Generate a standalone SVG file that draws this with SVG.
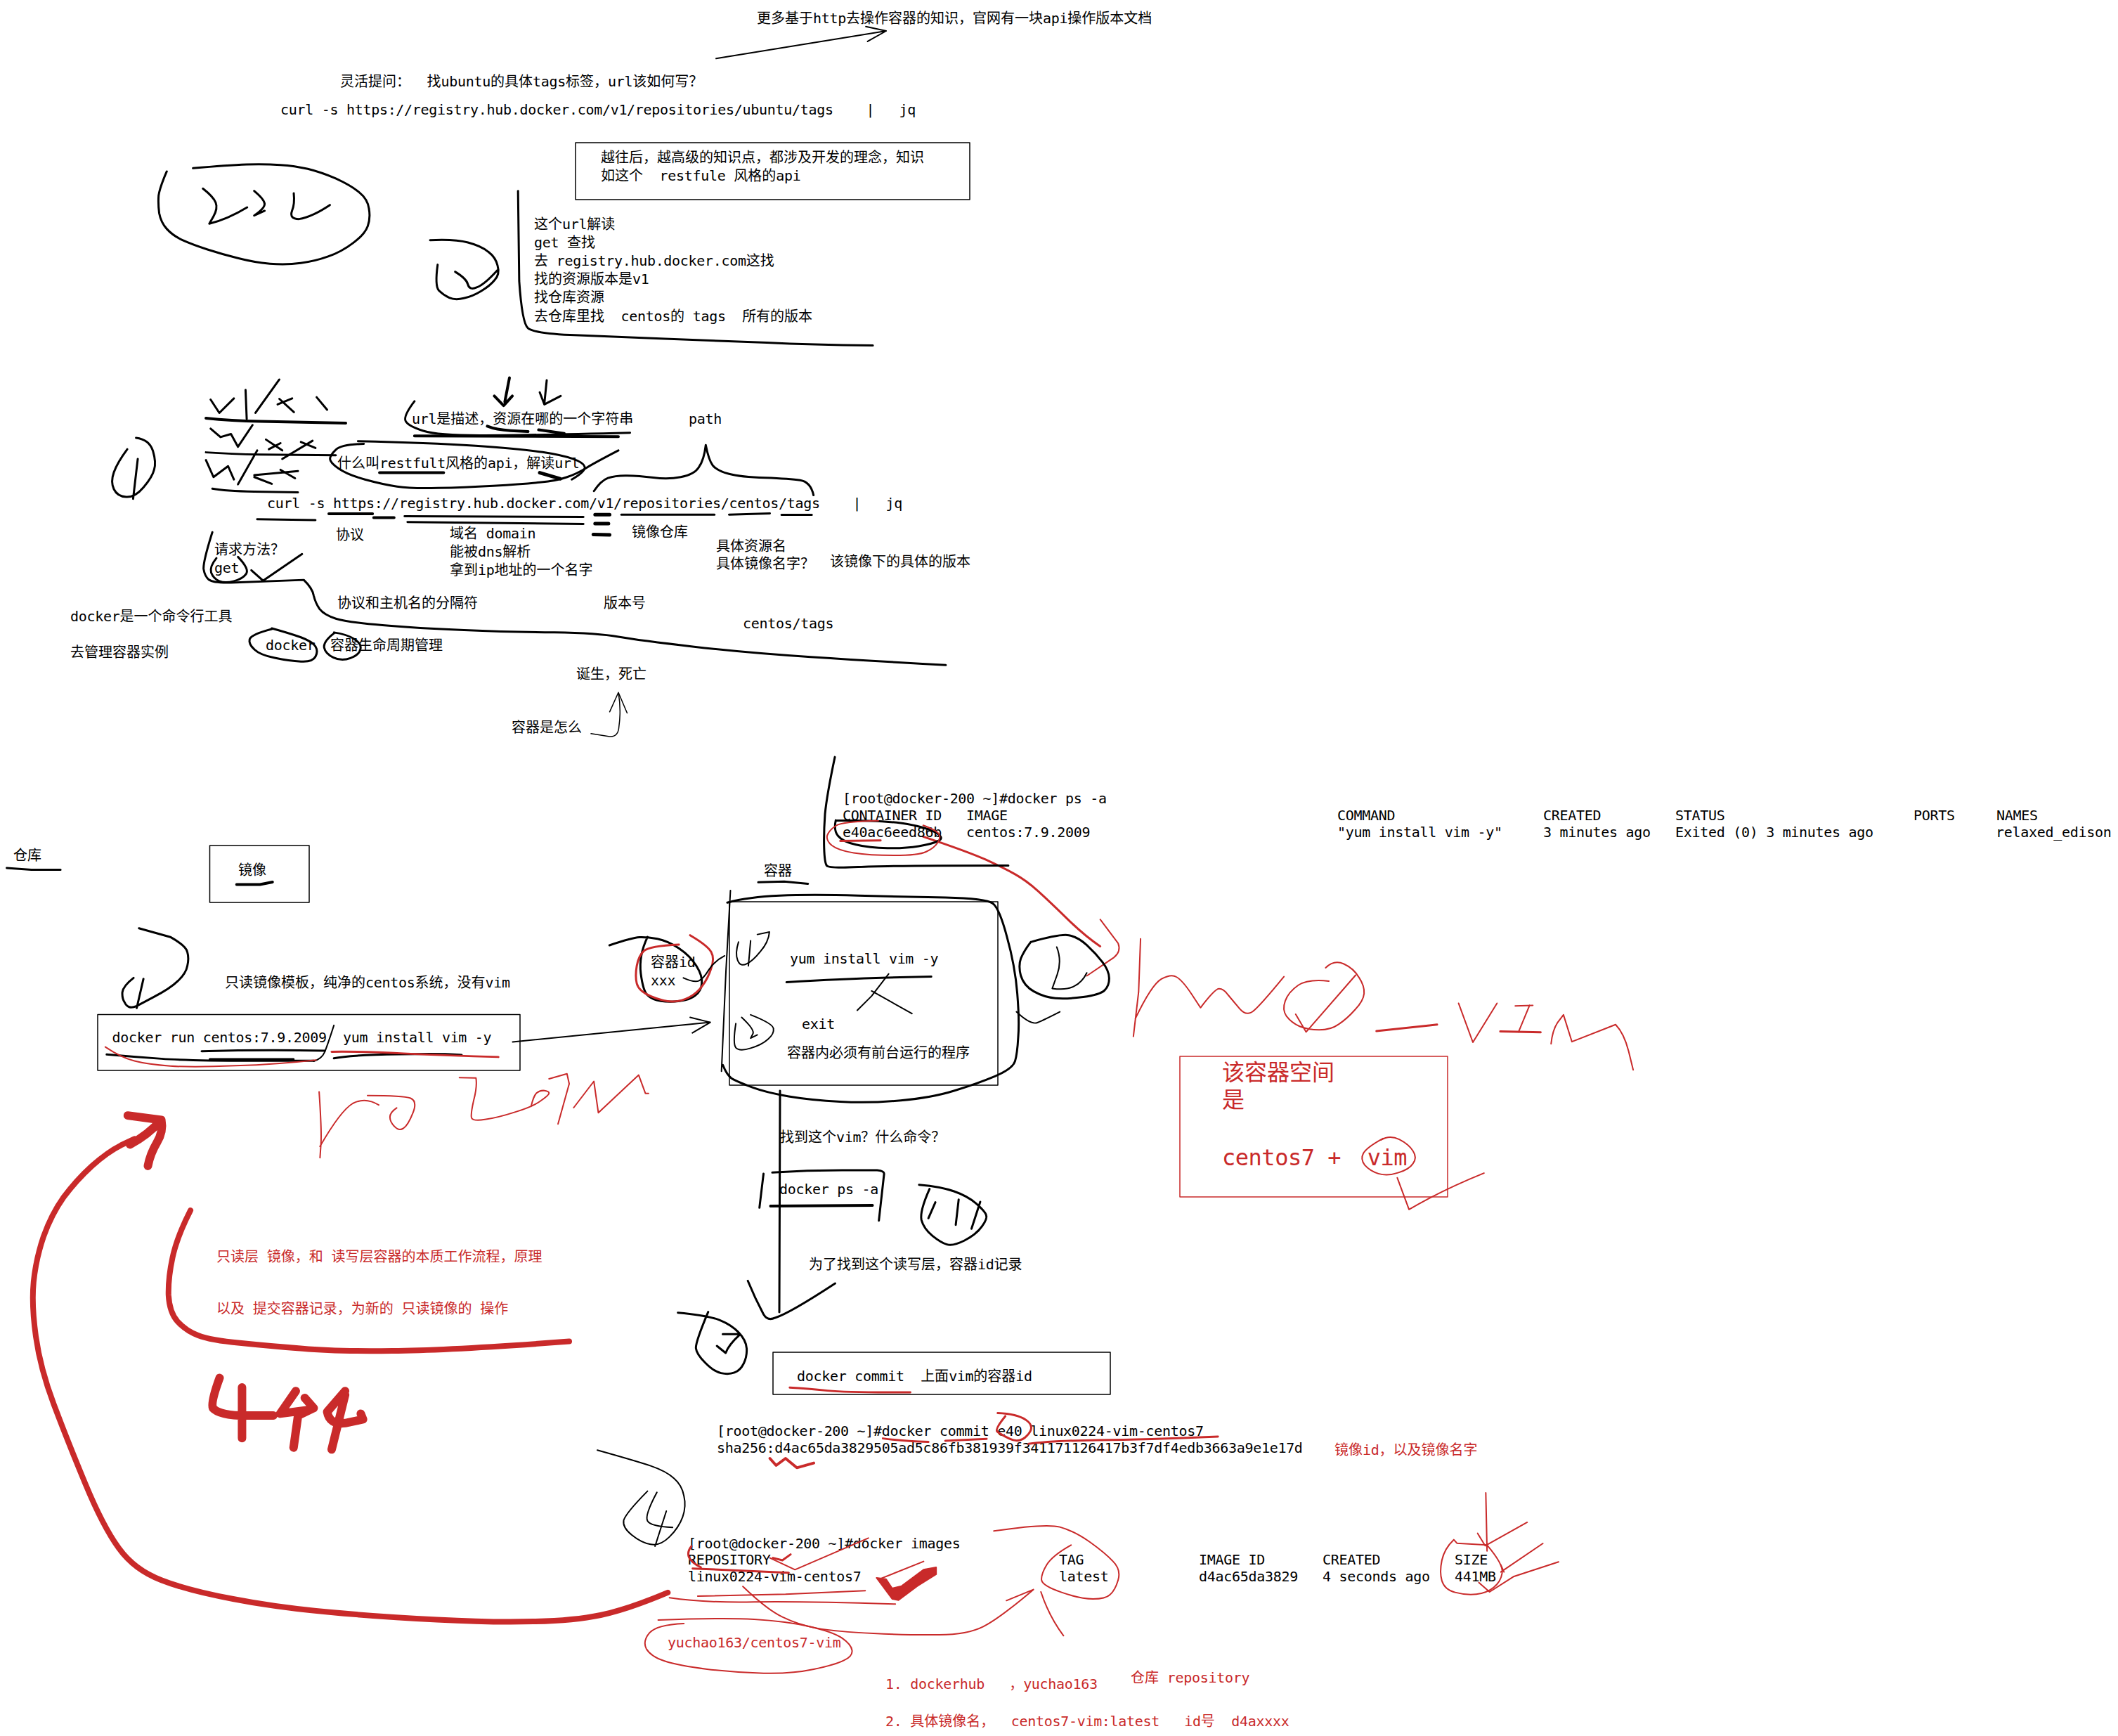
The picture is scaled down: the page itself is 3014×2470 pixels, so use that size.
<svg xmlns="http://www.w3.org/2000/svg" width="3014" height="2470" viewBox="0 0 3014 2470">
<style>
text{font-family:"DejaVu Sans Mono","Noto Sans CJK SC",monospace;font-size:20px;white-space:pre;fill:#000}
.l{letter-spacing:-.015em}
.r{fill:#c92a2a}
.b{font-size:32px}
path,rect{fill:none;stroke:#000;stroke-linecap:round;stroke-linejoin:round;vector-effect:non-scaling-stroke}
.c{stroke:#c92a2a}
.f{fill:#c92a2a;stroke:#c92a2a}
.w1{stroke-width:1.5px}.w2{stroke-width:2px}.w3{stroke-width:3px}.w4{stroke-width:4px}.w5{stroke-width:5px}.w8{stroke-width:8px}.w12{stroke-width:12px}
</style>
<rect width="3014" height="2470" style="fill:#fff;stroke:none"/>

<g id="boxes">
<rect class="w1" x="819" y="203" width="561" height="81"/>
<rect class="w1" x="298.500" y="1203" width="141.500" height="81"/>
<rect class="w1" x="139" y="1443.500" width="601" height="79.500"/>
<rect class="w1" x="1038" y="1283" width="382" height="261"/>
<rect class="w1 c" x="1679" y="1503" width="381" height="200"/>
<rect class="w1" x="1100" y="1924" width="480" height="60"/>
</g>

<g id="connectors">
<g transform="translate(200,0) scale(.829,.3333)">
<path class="w2" d="M988,250 L1280,132 M1245,113 L1280,132 L1248,177"/>
</g>
<g transform="translate(880,1060) scale(.6378,.3571)">
<path class="w2" d="M-236,1183 L205,1105 M160,1085 L205,1105 L165,1147"/>
</g>
<path class="w3" d="M1110,1552 L1109,1867"/>
<g transform="translate(900,1560) scale(.829,.3333)">
<path class="w3" d="M198,787 Q210,860 225,930 Q232,960 245,945 Q270,925 348,798"/>
</g>
<g transform="translate(80,510) scale(.829,.3444)">
<path class="w1" d="M918,1550 L950,1562 Q965,1565 966,1520 Q970,1450 965,1380 M950,1460 L965,1380 L980,1465"/>
</g>
<g transform="translate(880,1060) scale(.6378,.3571)">
<path class="w3 c" d="M680,365 Q780,425 820,457 Q860,490 885,515 Q910,540 935,580 Q960,620 1000,690 Q1040,760 1075,802"/>
<path class="w2 c" d="M1075,695 L1115,790 Q1122,822 1106,846 L1045,920"/>
</g>
<g transform="translate(0,1540) scale(.6378,.5357)">
<path class="w8 c" d="M1490,1355 Q1400,1400 1340,1415 Q1280,1430 1190,1432 Q1100,1435 975,1427 Q850,1420 735,1407 Q620,1395 520,1372 Q420,1350 360,1322 Q300,1295 265,1237 Q230,1180 190,1065 Q150,950 120,855 Q90,760 80,675 Q70,590 75,530 Q80,470 97,410 Q115,350 142,305 Q170,260 205,222 Q240,185 270,167 L300,150"/>
<path class="w12 c" d="M285,88 L360,100 Q365,130 350,160 Q335,190 330,222 M360,100 Q330,140 290,165"/>
<path class="w8 c" d="M425,340 Q395,410 385,465 Q375,520 376,565 Q378,610 396,635 Q415,660 442,672 Q470,685 535,692 Q600,700 675,707 Q750,715 875,713 Q1000,712 1270,688"/>
</g>
<g transform="translate(850,2040) scale(.8929,.3333)">
<path class="w2 c" d="M232,652 Q270,750 295,782 Q320,815 350,830 Q380,845 440,852 Q500,860 545,858 Q590,857 615,823 Q640,790 695,665 M652,712 L695,665"/>
<path class="w2 c" d="M707,675 Q720,780 743,862"/>
</g>
</g>

<g id="node-top-notes">
<text x="1077" y="33">更多基于<tspan class="l">http</tspan>去操作容器的知识&#xFF0C;官网有一块<tspan class="l">api</tspan>操作版本文档</text>
<text x="484" y="123">灵活提问&#xFF1A;<tspan class="l">  </tspan>找<tspan class="l">ubuntu</tspan>的具体<tspan class="l">tags</tspan>标签&#xFF0C;<tspan class="l">url</tspan>该如何写&#xFF1F;</text>
<text class="l" x="399" y="163">curl -s https://registry.hub.docker.com/v1/repositories/ubuntu/tags    |   jq</text>
<text x="855" y="231">越往后&#xFF0C;越高级的知识点&#xFF0C;都涉及开发的理念&#xFF0C;知识</text>
<text x="855" y="257">如这个<tspan class="l">  restfule </tspan>风格的<tspan class="l">api</tspan></text>
<text x="760" y="326">这个<tspan class="l">url</tspan>解读</text>
<text x="760" y="352"><tspan class="l">get </tspan>查找</text>
<text x="760" y="378">去<tspan class="l"> registry.hub.docker.com</tspan>这找</text>
<text x="760" y="404">找的资源版本是<tspan class="l">v1</tspan></text>
<text x="760" y="430">找仓库资源</text>
<text x="760" y="457">去仓库里找<tspan class="l">  centos</tspan>的<tspan class="l"> tags  </tspan>所有的版本</text>
</g>
<g id="node-222" transform="translate(200,0) scale(.829,.3333)">
<path class="w3" d="M45,732 Q33,800 31,835 Q30,870 32,910 Q35,950 45,977 Q55,1005 72,1025 Q90,1045 115,1065 Q140,1085 167,1102 Q195,1120 222,1126 Q250,1132 275,1123 Q300,1115 322,1095 Q345,1075 365,1037 Q385,1000 390,965 Q395,930 392,890 Q390,850 375,820 Q360,790 335,762 Q310,735 287,721 Q265,708 240,704 Q215,700 182,702 Q150,705 90,718"/>
<path class="w3" d="M107,805 Q125,840 129,865 Q133,890 125,925 L118,955 Q150,935 183,885 M195,815 Q212,850 213,870 Q213,890 195,920 L213,900 M263,825 Q265,870 260,900 Q255,935 272,935 Q295,925 325,875"/>
<path class="w3" d="M497,1025 Q540,1020 562,1035 Q585,1050 597,1075 Q610,1100 613,1135 Q617,1170 608,1195 Q600,1220 585,1242 Q570,1265 555,1273 Q540,1282 530,1271 Q520,1260 512,1240 Q505,1220 510,1130 M540,1160 Q560,1190 562,1215 Q565,1240 577,1227 Q590,1215 612,1155"/>
<path class="w3" d="M648,815 L650,1200 Q655,1380 665,1401 Q675,1422 737,1430 Q800,1437 900,1446 Q1000,1455 1075,1463 Q1150,1472 1257,1475"/>
</g>

<g id="node-url-notes">
<text x="586" y="603"><tspan class="l">url</tspan>是描述&#xFF0C;资源在哪的一个字符串</text>
<text class="l" x="980" y="603">path</text>
<text x="480" y="666">什么叫<tspan class="l">restfult</tspan>风格的<tspan class="l">api</tspan>&#xFF0C;解读<tspan class="l">url</tspan></text>
<text class="l" x="380" y="723">curl -s https://registry.hub.docker.com/v1/repositories/centos/tags    |   jq</text>
<text x="478" y="768">协议</text>
<text x="640" y="766">域名<tspan class="l"> domain</tspan></text>
<text x="640" y="792">能被<tspan class="l">dns</tspan>解析</text>
<text x="640" y="818">拿到<tspan class="l">ip</tspan>地址的一个名字</text>
<text x="899" y="764">镜像仓库</text>
<text x="1019" y="784">具体资源名</text>
<text x="1019" y="809">具体镜像名字&#xFF1F;</text>
<text x="1181" y="806">该镜像下的具体的版本</text>
<text x="305" y="789">请求方法&#xFF1F;</text>
<text class="l" x="305" y="815">get</text>
<text x="480" y="865">协议和主机名的分隔符</text>
<text x="859" y="865">版本号</text>
<text x="100" y="884"><tspan class="l">docker</tspan>是一个命令行工具</text>
<text class="l" x="1057" y="894">centos/tags</text>
<text x="100" y="935">去管理容器实例</text>
<text class="l" x="378" y="925">docker</text>
<text x="470" y="925">容器生命周期管理</text>
<text x="820" y="966">诞生&#xFF0C;死亡</text>
<text x="728" y="1042">容器是怎么</text>
</g>
<g id="node-url-sketch" transform="translate(80,510) scale(.829,.3444)">
<path class="w3" d="M137,328 Q160,335 166,382 Q172,430 168,460 Q165,490 150,532 Q135,575 120,572 Q105,570 99,540 Q93,510 99,470 Q105,430 122,375 M140,415 L132,580"/>
<path class="w3" d="M265,170 L280,225 L305,165 M327,250 L325,130 M342,225 L383,87 M383,167 L408,222 M380,190 L405,165 M447,160 L465,212"/>
<path class="w4" d="M257,247 Q300,258 350,260 L497,267"/>
<path class="w3" d="M265,290 L282,325 L300,312 L312,365 L337,275 M360,335 L388,380 M365,375 L385,350 M440,340 L388,415 M420,345 L445,370"/>
<path class="w3" d="M257,388 Q300,395 350,397 L480,400"/>
<path class="w3" d="M257,420 L270,490 L295,445 L305,500 M312,520 L345,380 M340,490 L370,518 M385,460 L410,495 M340,482 L415,465"/>
<path class="w3" d="M268,538 Q290,548 340,550 L415,553"/>
<path class="w3" d="M615,177 Q595,240 600,260 Q605,280 630,299 Q655,318 727,318 Q800,318 985,307"/>
<path class="w4" d="M615,320 L965,323 M740,280 Q755,295 780,298 L810,302 M828,295 L872,310"/>
<path class="w4" d="M778,80 L770,180 M752,155 L768,195 L783,155"/>
<path class="w3" d="M842,90 L838,185 M830,140 L838,190 L866,155"/>
<path class="w3" d="M528,353 Q490,355 480,377 Q470,400 470,415 Q470,430 485,455 Q500,480 530,500 Q560,520 585,529 Q610,538 655,535 Q700,533 750,526 Q800,520 830,512 Q860,505 877,490 Q895,475 910,452 Q925,430 965,380"/>
<path class="w3" d="M518,342 Q640,348 720,361 Q800,375 835,387 Q870,400 887,415 Q905,430 907,447 Q910,465 885,500"/>
<path class="w4" d="M555,472 L665,472"/>
<path class="w5" d="M830,472 L865,497"/>
<path class="w3" d="M923,548 Q935,505 947,494 Q960,483 980,484 Q1000,485 1025,492 Q1050,500 1072,490 Q1095,480 1103,450 Q1112,420 1115,358 Q1120,420 1127,442 Q1135,465 1155,477 Q1175,490 1217,493 Q1260,497 1277,503 Q1295,510 1300,565"/>
<path class="w3" d="M345,664 L445,668"/>
<path class="w4" d="M468,642 L543,642 M545,658 L580,658"/>
<path class="w3" d="M598,652 L905,655 M603,676 L905,684"/>
<path class="w5" d="M925,645 L950,645 M925,682 L948,682 M922,727 L950,729"/>
<path class="w3" d="M970,645 L1130,645 M1155,645 L1225,640 M1245,646 L1297,646"/>
<path class="w3" d="M268,718 Q252,840 253,870 Q255,900 262,914 Q270,928 300,926 L425,915 Q440,950 442,980 Q445,1010 452,1035 Q460,1060 480,1075 Q500,1090 560,1102 Q620,1115 700,1122 Q780,1130 855,1132 Q930,1135 965,1150 Q1000,1165 1095,1191 Q1190,1217 1295,1233 Q1400,1250 1527,1267"/>
<path class="w3" d="M275,825 Q263,860 266,885 Q270,910 280,920 Q290,930 305,920 Q320,910 326,890 Q332,870 312,820"/>
<path class="w3" d="M335,875 L355,918 L422,808"/>
<path class="w3" d="M370,1118 Q335,1140 332,1160 Q330,1180 340,1202 Q350,1225 375,1237 Q400,1250 420,1252 Q440,1255 445,1232 Q450,1210 445,1190 Q440,1170 420,1152 Q400,1135 370,1115"/>
<path class="w3" d="M477,1135 Q458,1170 460,1195 Q462,1220 476,1236 Q490,1252 505,1238 Q520,1225 522,1202 Q525,1180 512,1160 Q500,1140 477,1132"/>
</g>

<g id="node-image">
<text x="19" y="1224">仓库</text>
<text x="339" y="1245">镜像</text>
<text x="320" y="1405">只读镜像模板&#xFF0C;纯净的<tspan class="l">centos</tspan>系统&#xFF0C;没有<tspan class="l">vim</tspan></text>
<text class="l" x="159.500" y="1483">docker run centos:7.9.2009</text>
<text class="l" x="488" y="1483">yum install vim -y</text>
<text x="926" y="1376">容器<tspan class="l">id</tspan></text>
<text class="l" x="926" y="1402">xxx</text>
</g>
<g id="node-image-sketch" transform="translate(0,1060) scale(.6378,.3571)">
<path class="w3" d="M15,490 L70,497 L135,497"/>
<path class="w4" d="M528,556 L580,556 L608,546"/>
<path class="w3" d="M310,730 L380,765 Q415,800 418,825 Q422,850 418,880 Q415,910 397,940 Q380,970 342,1005 L305,1040 Q285,1055 278,1025 Q272,1010 273,985 Q275,960 298,928 M320,932 L305,1048"/>
<path class="w3" d="M450,1220 Q590,1213 725,1218 M238,1233 Q300,1243 360,1250 Q420,1258 560,1258 L700,1258 M468,1252 L655,1252"/>
<path class="w2" d="M745,1117 Q730,1200 724,1225 Q718,1250 700,1260"/>
<path class="w3" d="M745,1248 Q780,1235 890,1232 Q1000,1228 1030,1235"/>
<path class="w2 c" d="M235,1203 Q270,1245 300,1259 Q330,1273 380,1279 Q430,1285 525,1278 Q620,1272 705,1255"/>
<path class="w3 c" d="M740,1222 Q800,1220 900,1229 Q1000,1237 1112,1243"/>
<path class="w2 c" d="M1025,1325 L1062,1327 Q1065,1360 1057,1415 Q1050,1470 1052,1485 Q1055,1500 1082,1492 Q1110,1485 1150,1462 Q1190,1440 1207,1417 Q1225,1395 1225,1387 Q1225,1380 1215,1377 Q1205,1375 1197,1387 Q1190,1400 1185,1440 M1225,1330 L1265,1310 L1270,1350 L1245,1510 M1280,1445 L1325,1340 L1335,1465 L1425,1315 L1440,1388 L1447,1388"/>
</g>
<g id="node-no-vim" transform="translate(0,1540) scale(.6378,.5357)">
<path class="w2 c" d="M712,25 Q718,130 716,165 L714,200 M714,170 Q760,75 787,56 Q815,38 845,60 M820,35 Q900,35 916,42 Q932,50 921,82 Q910,115 900,122 Q890,130 880,117 Q870,105 870,92 Q870,80 885,68"/>
</g>

<g id="node-container">
<text x="1199" y="1143" class="l">[root@docker-200 ~]#docker ps -a</text>
<text x="1199" y="1167" class="l">CONTAINER ID   IMAGE</text>
<text x="1199" y="1191" class="l">e40ac6eed86b   centos:7.9.2009</text>
<text x="1903" y="1167" class="l">COMMAND</text>
<text x="1903" y="1191" class="l">"yum install vim -y"</text>
<text x="2196" y="1167" class="l">CREATED</text>
<text x="2196" y="1191" class="l">3 minutes ago</text>
<text x="2384" y="1167" class="l">STATUS</text>
<text x="2384" y="1191" class="l">Exited (0) 3 minutes ago</text>
<text x="2723" y="1167" class="l">PORTS</text>
<text x="2841" y="1167" class="l">NAMES</text>
<text x="2840" y="1191" class="l">relaxed_edison</text>
<text x="1087" y="1246">容器</text>
<text x="1124" y="1371" class="l">yum install vim -y</text>
<text x="1141" y="1464" class="l">exit</text>
<text x="1120" y="1505">容器内必须有前台运行的程序</text>
</g>
<g id="node-container-sketch" transform="translate(880,1060) scale(.6378,.3571)">
<path class="w3" d="M483,48 Q465,200 461,275 Q458,350 459,410 Q460,470 465,481 Q470,492 535,486 Q600,480 870,480"/>
<path class="w3" d="M485,300 Q600,300 645,315 Q690,330 709,350 Q728,370 714,382 Q700,395 670,403 Q640,412 600,411 Q560,410 530,397 Q500,385 490,362 Q480,340 485,300"/>
<path class="w2 c" d="M580,302 Q500,305 485,322 Q470,340 466,360 Q463,380 476,400 Q490,420 525,430 Q560,440 615,440 Q670,440 687,425 Q705,410 712,390 Q720,370 715,355 Q710,340 680,320"/>
<path class="w3 c" d="M495,382 L585,380"/>
<path class="w3" d="M-20,798 Q30,768 47,766 Q65,765 87,772 Q110,780 135,810 Q160,840 174,880 Q188,920 186,950 Q185,980 172,997 Q160,1015 137,1020 Q115,1025 95,1020 Q75,1015 65,997 Q55,980 50,910 Q45,840 65,765"/>
<path class="w3 c" d="M135,795 Q70,800 57,820 Q45,840 41,880 Q37,920 41,950 Q45,980 72,1001 Q100,1022 120,1022 Q140,1022 157,1006 Q175,990 187,960 Q200,930 207,890 Q215,850 207,825 Q200,800 160,758"/>
<path class="w2" d="M145,928 Q170,948 180,939 Q190,930 202,895 Q215,860 237,840"/>
<path class="w3" d="M312,547 L370,544 L423,553"/>
<path class="w2" d="M250,580 L240,900 L230,1300"/>
<path class="w3" d="M243,628 Q290,605 360,600 Q430,595 535,600 Q640,605 730,608 Q820,612 835,631 Q850,650 867,765 Q885,880 890,990 Q895,1100 892,1165 Q890,1230 885,1260 Q880,1290 840,1320 Q800,1350 750,1377 Q700,1405 630,1416 Q560,1428 495,1421 Q430,1415 380,1400 Q330,1385 300,1365 Q270,1345 256,1332 Q243,1320 233,1275"/>
<path class="w2" d="M310,755 L337,745 Q335,785 317,822 Q300,860 286,872 Q272,885 266,857 Q260,830 268,785 M295,780 L290,880"/>
<path class="w2" d="M295,1075 Q345,1110 346,1130 Q348,1150 334,1172 Q320,1195 295,1208 Q270,1222 262,1206 Q255,1190 262,1110 M275,1085 Q305,1135 300,1151 L295,1168 L310,1155"/>
<path class="w3" d="M920,785 Q985,752 1005,758 Q1025,765 1045,797 Q1065,830 1080,865 Q1095,900 1095,930 Q1095,960 1085,977 Q1075,995 1037,1004 Q1000,1013 975,1009 Q950,1005 927,982 Q905,960 898,920 Q892,880 898,850 Q905,820 920,785"/>
<path class="w2" d="M978,805 Q990,860 979,915 L968,970 Q1000,978 1017,961 Q1035,945 1045,908"/>
<path class="w2" d="M888,1063 Q920,1117 935,1106 Q950,1095 985,1063"/>
<path class="w3" d="M375,945 Q500,932 600,927 L698,923"/>
<path class="w2" d="M603,912 L565,1000 L533,1057 M565,980 L655,1070"/>
</g>

<g id="node-vim-note">
<text class="r b" x="1739" y="1537">该容器空间</text>
<text class="r b" x="1739" y="1576">是</text>
<text class="r b l" x="1739" y="1658">centos7 +  vim</text>
</g>
<g id="node-vim-sketch" transform="translate(1560,1100) scale(.9273,.4209)">
<path class="w2 c" d="M68,560 L65,740 L57,890 M60,830 Q85,715 100,696 Q115,678 123,689 Q132,700 146,746 L160,793 Q182,730 188,729 Q195,728 202,749 Q210,770 220,796 Q230,822 240,806 Q250,790 288,688"/>
<path class="w2 c" d="M357,703 Q325,695 310,717 Q295,740 290,770 Q285,800 292,822 Q300,845 312,856 Q325,868 342,868 Q360,868 372,849 Q385,830 397,800 Q410,770 411,745 Q412,720 403,690 Q395,660 380,645 Q365,630 352,658 M398,683 L322,875 L306,815"/>
<path class="w3 c" d="M430,872 L523,850"/>
<path class="w2 c" d="M556,778 L578,910 L615,778 M643,787 L670,785 M665,785 L648,875"/>
<path class="w3 c" d="M620,873 L682,876"/>
<path class="w2 c" d="M698,915 Q700,870 708,843 L717,817 L730,908 L797,850 Q810,880 817,940 L824,1003"/>
<path class="w2 c" d="M440,1235 Q415,1265 410,1285 Q405,1305 412,1325 Q420,1345 433,1354 Q447,1363 463,1351 Q480,1340 486,1320 Q493,1300 486,1277 Q480,1255 465,1238 Q450,1222 437,1240"/>
<path class="w2 c" d="M462,1368 L480,1475 Q530,1410 595,1352"/>
</g>

<g id="node-readonly-note">
<text class="r" x="308" y="1795">只读层<tspan class="l"> </tspan>镜像&#xFF0C;和<tspan class="l"> </tspan>读写层容器的本质工作流程&#xFF0C;原理</text>
<text class="r" x="308" y="1869">以及<tspan class="l"> </tspan>提交容器记录&#xFF0C;为新的<tspan class="l"> </tspan>只读镜像的<tspan class="l"> </tspan>操作</text>
</g>
<g id="node-444" transform="translate(0,1540) scale(.6378,.5357)">
<path class="w12 c" d="M490,785 Q470,850 475,865 Q490,885 550,885 L610,885 M540,810 L540,945 M660,820 L625,880 L690,870 M680,838 L700,865 L665,885 L655,970 M770,820 L730,875 Q735,910 770,905 L810,895 L805,880 M770,830 L740,975"/>
</g>

<g id="node-commit">
<text x="1110" y="1625">找到这个<tspan class="l">vim</tspan>&#xFF1F;什么命令&#xFF1F;</text>
<text x="1109" y="1699" class="l">docker ps -a</text>
<text x="1151" y="1806">为了找到这个读写层&#xFF0C;容器<tspan class="l">id</tspan>记录</text>
<text x="1134" y="1965"><tspan class="l">docker commit  </tspan>上面<tspan class="l">vim</tspan>的容器<tspan class="l">id</tspan></text>
<text x="1020" y="2043" class="l">[root@docker-200 ~]#docker commit e40 linux0224-vim-centos7</text>
<text x="1020" y="2067" class="l">sha256:d4ac65da3829505ad5c86fb381939f341171126417b3f7df4edb3663a9e1e17d</text>
<text class="r" x="1899" y="2070">镜像<tspan class="l">id</tspan>&#xFF0C;以及镜像名字</text>
</g>
<g id="node-commit-sketch" transform="translate(900,1560) scale(.829,.3333)">
<path class="w3" d="M225,330 L218,475 M240,325 Q300,315 360,315 L420,315 Q432,318 432,330 L423,530"/>
<path class="w4" d="M237,468 L412,465"/>
<path class="w3" d="M492,377 Q530,385 552,405 Q575,425 590,457 Q605,490 607,505 Q610,520 600,555 Q590,590 570,615 Q550,640 540,632 Q530,625 515,595 Q500,565 496,527 Q493,490 510,395 M520,452 L508,520 M560,440 L555,548 M597,450 L582,565"/>
<path class="w3" d="M78,923 Q130,935 150,955 Q170,975 182,1007 Q195,1040 196,1075 Q197,1110 191,1140 Q185,1170 175,1179 Q165,1188 152,1181 Q140,1175 125,1137 Q110,1100 109,1075 Q108,1050 130,920 M155,1015 L185,1015 Q165,1060 160,1095 L145,1065"/>
<path class="w3 c" d="M270,1243 Q300,1247 335,1256 Q370,1265 477,1263"/>
<path class="w3 c" d="M627,1352 Q660,1355 676,1382 Q692,1410 678,1446 Q665,1483 647,1461 Q630,1440 626,1430 Q622,1420 640,1365"/>
<path class="w3 c" d="M430,1460 Q460,1470 508,1475 M537,1470 L608,1462 M680,1483 Q720,1470 800,1467 Q880,1465 1005,1452"/>
</g>

<g id="node-images">
<text x="979" y="2203" class="l">[root@docker-200 ~]#docker images</text>
<text x="979" y="2226" class="l">REPOSITORY</text>
<text x="979" y="2250" class="l">linux0224-vim-centos7</text>
<text x="1507" y="2226" class="l">TAG</text>
<text x="1507" y="2250" class="l">latest</text>
<text x="1706" y="2226" class="l">IMAGE ID</text>
<text x="1706" y="2250" class="l">d4ac65da3829</text>
<text x="1882" y="2226" class="l">CREATED</text>
<text x="1882" y="2250" class="l">4 seconds ago</text>
<text x="2070" y="2226" class="l">SIZE</text>
<text x="2070" y="2250" class="l">441MB</text>
<text class="r" x="1609" y="2394">仓库<tspan class="l"> repository</tspan></text>
<text class="r l" x="950" y="2344">yuchao163/centos7-vim</text>
<text class="r" x="1260" y="2403"><tspan class="l">1. dockerhub   </tspan>&#xFF0C;<tspan class="l">yuchao163</tspan></text>
<text class="r" x="1260" y="2456"><tspan class="l">2. </tspan>具体镜像名&#xFF0C;<tspan class="l">  centos7-vim:latest   id</tspan>号<tspan class="l">  d4axxxx</tspan></text>
</g>
<g id="node-images-sketch" transform="translate(850,2040) scale(.8929,.3333)">
<path class="w4 c" d="M275,105 L285,135 L300,105 L318,145 L345,125"/>
<path class="w2" d="M0,70 Q60,115 85,137 Q110,160 122,190 Q135,220 138,265 Q142,310 136,355 Q130,400 115,440 Q100,480 85,472 Q70,465 55,432 Q40,400 42,370 Q45,340 80,245 M95,250 Q75,350 80,372 Q85,395 120,400 M110,330 L92,480"/>
<path class="w3 c" d="M150,480 Q135,530 165,570 M280,530 L295,540 L308,515"/>
<path class="w2 c" d="M432,445 L315,580 L275,530"/>
<path class="w3 c" d="M152,575 L305,593"/>
<path class="w2 c" d="M520,545 L450,620"/>
<path class="w2 f" d="M445,615 L470,705 L480,710 L510,650 L540,600 L540,570 L520,580 L485,650 L470,660 L460,620 Z"/>
<path class="w2 c" d="M160,693 L300,685 L427,670 M115,700 Q170,722 250,718 Q330,715 475,727"/>
<path class="w2 c" d="M755,475 Q725,520 716,560 Q707,600 708,625 Q710,650 740,677 Q770,705 790,705 Q810,705 817,687 Q825,670 830,625 Q835,580 822,545 Q810,510 785,462 Q760,415 737,398 Q715,382 632,415"/>
<path class="w2 c" d="M138,810 Q95,815 83,850 Q72,885 78,917 Q85,950 107,970 Q130,990 175,1005 Q220,1020 265,1022 Q310,1025 345,1005 Q380,985 393,967 Q407,950 406,925 Q405,900 390,872 Q375,845 337,822 Q300,800 250,792 Q200,785 97,795"/>
<path class="w2 c" d="M1370,467 L1418,475 Q1445,560 1442,595 Q1440,630 1429,655 Q1418,680 1401,685 Q1385,690 1367,677 Q1350,665 1346,627 Q1342,590 1346,540 Q1350,490 1365,452 L1370,467"/>
<path class="w2 c" d="M1416,252 L1418,500 M1403,425 L1415,478 L1482,378 M1507,468 L1440,590 M1440,560 L1445,590 M1405,635 L1422,675 L1460,610 L1532,547"/>
</g>
</svg>
